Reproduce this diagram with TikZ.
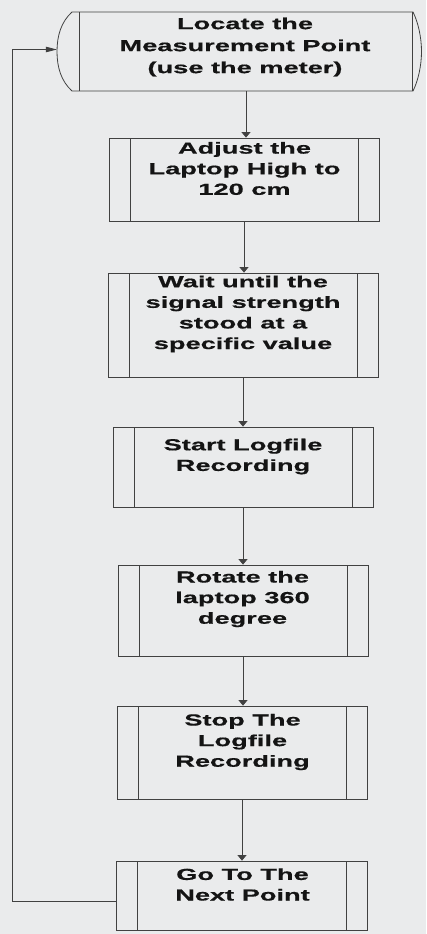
\documentclass[tikz,border=0pt]{standalone}
\usepackage{fontspec}
\setmainfont{Liberation Sans}[FakeStretch=1.7, BoldFeatures={FakeBold=0.6}]
\usetikzlibrary{arrows.meta,calc}

\definecolor{paper}{RGB}{234,235,236}
\definecolor{ink}{RGB}{20,20,20}
\definecolor{rule}{RGB}{65,65,65}

\tikzset{
  rule/.style={draw=rule, line width=0.8pt},
  procbox/.style={rule, rectangle, inner sep=0pt,
    minimum width=#1,
    path picture={
      \draw[rule]
        ([xshift=21pt]path picture bounding box.north west) --
        ([xshift=21pt]path picture bounding box.south west)
        ([xshift=-21pt]path picture bounding box.north east) --
        ([xshift=-21pt]path picture bounding box.south east);
    }},
  txt/.style={inner sep=0pt, align=center, text=ink,
    font=\bfseries\fontsize{16}{20.6}\selectfont},
  downarr/.style={rule, -{Triangle[length=5.5pt,width=9pt]}},
  sidearr/.style={rule, -{Triangle[length=11pt,width=5.5pt]}},
}

\begin{document}
\begin{tikzpicture}[x=1pt,y=-1pt]
  % page
  \fill[paper] (0,0) rectangle (426,934);
  \useasboundingbox (0,0) rectangle (426,934);

  % start terminal: straight body with curved ends and inner bars
  \node[inner sep=0pt, minimum width=364pt, minimum height=79pt] (start) at (239,51.5) {};
  \draw[rule] (72,12) -- (413,12)
      .. controls (418,22) and (421.5,37) .. (421.5,51.5)
      .. controls (421.5,66) and (418,81) .. (413,91)
      -- (72,91)
      .. controls (61,81) and (57,67) .. (57,51.5)
      .. controls (57,36) and (61,22) .. cycle;
  \draw[rule] (79,12) -- (79,91) (412,12) -- (412,91);
  \node[txt, font=\bfseries\fontsize{16}{22}\selectfont] (t1) at (245,47)
    {Locate the\\Measurement Point\\(use the meter)};

  % process steps
  \node[procbox=270pt, minimum height=83pt]  (b2) at (244,179.5) {};
  \node[txt] (t2) at (244.5,168.5) {Adjust the\\Laptop High to\\120 cm};

  \node[procbox=270pt, minimum height=104pt] (b3) at (243,325) {};
  \node[txt] (t3) at (243,314) {Wait until the\\signal strength\\stood at a\\specific value};

  \node[procbox=260pt, minimum height=80pt]  (b4) at (243,467) {};
  \node[txt] (t4) at (243,456.5) {Start Logfile\\Recording};

  \node[procbox=250pt, minimum height=91pt]  (b5) at (243,610.5) {};
  \node[txt] (t5) at (242.5,599) {Rotate the\\laptop 360\\degree};

  \node[procbox=250pt, minimum height=93pt]  (b6) at (242,752.5) {};
  \node[txt] (t6) at (242.5,742) {Stop The\\Logfile\\Recording};

  \node[procbox=251pt, minimum height=69pt]  (b7) at (241.5,895.5) {};
  \node[txt] (t7) at (242.5,884.5) {Go To The\\Next Point};

  % flow
  \draw[downarr] (start.south -| b2.north) ++(2,0) -- ($(b2.north)+(2,0)$);
  \draw[downarr] (b2.south) -- (b2.south |- b3.north);
  \draw[downarr] (b3.south) -- (b3.south |- b4.north);
  \draw[downarr] (b4.south) -- (b4.south |- b5.north);
  \draw[downarr] (b5.south) -- (b5.south |- b6.north);
  \draw[downarr] (b6.south) -- (b6.south |- b7.north);

  % return loop to the next measurement point
  \coordinate (loop) at (12,0);
  \draw[sidearr] ($(b7.west)+(0,6)$) -- ($(b7.west -| loop)+(0,6)$)
                 -- ($(loop |- start.west)+(0,-2)$) -- ($(start.west)+(0,-2)$);
\end{tikzpicture}
\end{document}
